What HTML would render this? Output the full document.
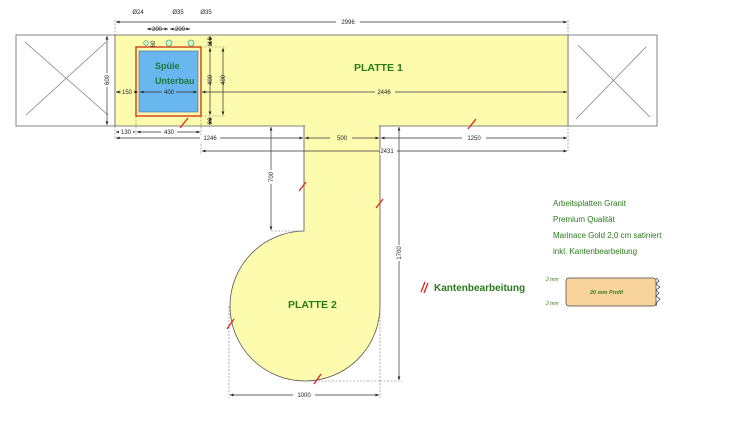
<!DOCTYPE html>
<html><head><meta charset="utf-8"><style>
html,body{margin:0;padding:0;background:#fff;}
svg{display:block;font-family:"Liberation Sans",sans-serif;}
.d{stroke:#333;stroke-width:0.7;fill:none}
.ds{stroke:#777;stroke-width:0.6;fill:none;stroke-dasharray:2,1.5}
.t{font-size:6px;fill:#222}
.g{font-family:"Liberation Sans",sans-serif;fill:#2a7a1a;font-weight:bold}
.k{stroke:#d22;stroke-width:1.3}
</style></head><body>
<svg width="750" height="426" viewBox="0 0 750 426" xmlns="http://www.w3.org/2000/svg">
<defs><marker id="a" markerWidth="6" markerHeight="6" refX="5" refY="3" orient="auto-start-reverse"><path d="M0,1 L5,3 L0,5z" fill="#222"/></marker></defs>
<rect x="16" y="35" width="99" height="91" fill="#fff" stroke="#666" stroke-width="0.8"/>
<line x1="25" y1="42" x2="108" y2="115" stroke="#777" stroke-width="0.7"/><line x1="26" y1="115" x2="106" y2="42" stroke="#777" stroke-width="0.7"/>
<rect x="568" y="35" width="89" height="91" fill="#fff" stroke="#666" stroke-width="0.8"/>
<line x1="578" y1="45" x2="650" y2="117" stroke="#777" stroke-width="0.7"/><line x1="576" y1="119" x2="646" y2="47" stroke="#777" stroke-width="0.7"/>
<rect x="115" y="35" width="453" height="91" fill="#fdfbae" stroke="#666" stroke-width="0.8"/>
<path d="M304,126 L380,126 L380,306 A75,75 0 1 1 304,231 Z" fill="#fdfbae" stroke="#555" stroke-width="0.8"/>
<line x1="305" y1="126" x2="379" y2="126" stroke="#fdfbae" stroke-width="1.2"/>
<rect x="136" y="47" width="65" height="69" fill="none" stroke="#d24a1e" stroke-width="1.5"/>
<rect x="139" y="51" width="59" height="61" fill="#6ab7f0" stroke="#3a6fa0" stroke-width="0.6"/>
<text x="155" y="69" class="g" style="font-size:9px;fill:#1a7a3a">Spüle</text>
<text x="155" y="84" class="g" style="font-size:9px;fill:#1a7a3a">Unterbau</text>
<circle cx="146" cy="43" r="2.3" fill="#cfc" stroke="#386" stroke-width="0.6"/>
<circle cx="169" cy="43" r="3" fill="#cfc" stroke="#386" stroke-width="0.6"/>
<circle cx="191" cy="43" r="3" fill="#cfc" stroke="#386" stroke-width="0.6"/>
<text x="354" y="71" class="g" style="font-size:10.5px">PLATTE 1</text>
<text x="288" y="308" class="g" style="font-size:10.5px">PLATTE 2</text>
<g class="d" marker-start="url(#a)" marker-end="url(#a)">
<line x1="116" y1="22" x2="567" y2="22"/>
<line x1="147" y1="29" x2="168" y2="29"/><line x1="170" y1="29" x2="190" y2="29"/>
<line x1="116" y1="92" x2="138" y2="92"/><line x1="140" y1="92" x2="197" y2="92"/><line x1="202" y1="92" x2="567" y2="92"/>
<line x1="107" y1="36" x2="107" y2="125"/>
<line x1="210" y1="36" x2="210" y2="46"/><line x1="210" y1="48" x2="210" y2="115"/><line x1="210" y1="117" x2="210" y2="125"/>
<line x1="223" y1="48" x2="223" y2="115"/>
<line x1="116" y1="132" x2="135" y2="132"/><line x1="137" y1="132" x2="200" y2="132"/>
<line x1="116" y1="138" x2="303" y2="138"/><line x1="305" y1="138" x2="379" y2="138"/><line x1="381" y1="138" x2="567" y2="138"/>
<line x1="202" y1="151" x2="567" y2="151"/>
<line x1="271" y1="127" x2="271" y2="230"/>
<line x1="399" y1="127" x2="399" y2="380"/>
<line x1="230" y1="395" x2="379" y2="395"/>
</g>
<g class="ds">
<line x1="115" y1="20" x2="115" y2="35"/><line x1="568" y1="20" x2="568" y2="151"/>
<line x1="115" y1="126" x2="115" y2="140"/><line x1="136" y1="116" x2="136" y2="135"/><line x1="201" y1="116" x2="201" y2="155"/>
<line x1="304" y1="126" x2="304" y2="140"/><line x1="380" y1="126" x2="380" y2="140"/>
<line x1="271" y1="231" x2="304" y2="231"/><line x1="380" y1="381" x2="402" y2="381"/><line x1="304" y1="381" x2="380" y2="381"/>
<line x1="229" y1="306" x2="229" y2="398"/><line x1="380" y1="306" x2="380" y2="398"/>
<line x1="201" y1="47" x2="226" y2="47"/><line x1="201" y1="116" x2="226" y2="116"/>
</g>
<g class="t" text-anchor="middle" style="fill:#222">
<rect x="336" y="18" width="24" height="8" fill="#fff"/><text x="348" y="24">2996</text>
<text x="138" y="14">Ø24</text><text x="178" y="14">Ø35</text><text x="206" y="14">Ø35</text>
<text x="157" y="31">200</text><text x="180" y="31">200</text>
<rect x="121" y="89" width="13" height="7" fill="#fdfbae"/><text x="127" y="94">150</text>
<rect x="162" y="89" width="14" height="7" fill="#6ab7f0"/><text x="169" y="94">400</text>
<rect x="375" y="89" width="20" height="7" fill="#fdfbae"/><text x="384" y="94">2446</text>
<rect x="119" y="129" width="14" height="7" fill="#fff"/><text x="126" y="134">130</text>
<rect x="161" y="129" width="16" height="7" fill="#fff"/><text x="169" y="134">430</text>
<rect x="200" y="135" width="20" height="7" fill="#fff"/><text x="210" y="140">1246</text>
<rect x="330" y="135" width="22" height="7" fill="#fdfbae"/><text x="342" y="140">500</text>
<rect x="462" y="135" width="24" height="7" fill="#fff"/><text x="474" y="140">1250</text>
<rect x="380" y="148" width="17" height="7" fill="#fff"/><text x="387" y="153">2431</text>
<rect x="293" y="392" width="22" height="7" fill="#fff"/><text x="304" y="397">1000</text>
<rect x="267" y="170" width="8" height="14" fill="#fff"/><text transform="translate(273,177) rotate(-90)">700</text>
<rect x="395" y="245" width="8" height="16" fill="#fff"/><text transform="translate(401,253) rotate(-90)">1700</text>
<rect x="103" y="73" width="8" height="14" fill="#fff"/><text transform="translate(109,80) rotate(-90)">600</text>
<text transform="translate(212,80) rotate(-90)">400</text><text transform="translate(225,80) rotate(-90)">400</text>
<text transform="translate(212,42) rotate(-90)">110</text><text transform="translate(212,121) rotate(-90)">90</text>
<text transform="translate(155,44) rotate(-90)">60</text>
</g>
<g class="k">
<line x1="180" y1="128" x2="188" y2="118"/>
<line x1="468" y1="129" x2="476" y2="119"/>
<line x1="299" y1="191" x2="306" y2="182"/>
<line x1="376" y1="208" x2="383" y2="199"/>
<line x1="227" y1="329" x2="234" y2="319"/>
<line x1="314" y1="384" x2="321" y2="374"/>
<line x1="421" y1="292" x2="425" y2="282"/><line x1="424" y1="293" x2="428" y2="283"/>
</g>
<text x="434" y="291" class="g" style="font-size:10px">Kantenbearbeitung</text>
<g class="g" style="font-size:8px;fill:#2a7a1a">
<text x="553" y="206" style="font-weight:normal">Arbeitsplatten Granit</text>
<text x="553" y="222" style="font-weight:normal">Premium Qualität</text>
<text x="553" y="238" style="font-weight:normal">Marinace Gold 2,0 cm satiniert</text>
<text x="553" y="254" style="font-weight:normal">inkl. Kantenbearbeitung</text>
</g>
<rect x="566" y="278" width="90" height="28" rx="3" fill="#f8d39c" stroke="#444" stroke-width="0.7"/>
<path d="M656,278 l3,3 -3,3 4,3 -4,3 3,3 -3,3 4,3 -3,3 -1,4" fill="none" stroke="#333" stroke-width="0.7"/>
<text x="590" y="294" style="font-size:5.5px;font-style:italic;font-weight:bold;fill:#3a7a1a">20 mm Profil</text>
<text x="546" y="281" style="font-size:5px;font-style:italic;fill:#3a7a1a">2 mm</text>
<text x="546" y="305" style="font-size:5px;font-style:italic;fill:#3a7a1a">2 mm</text>
</svg>
</body></html>
